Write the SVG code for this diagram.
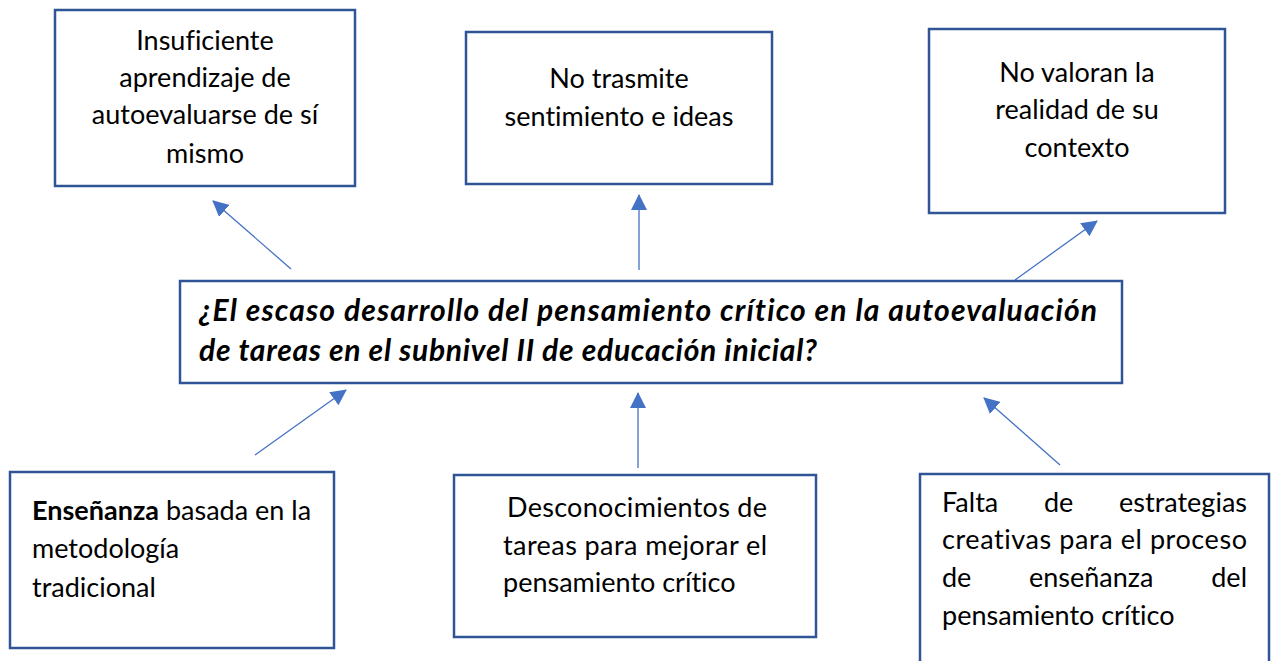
<svg xmlns="http://www.w3.org/2000/svg" width="1272" height="661" viewBox="0 0 1272 661">
<style>
text{font-variant-ligatures:none;font-feature-settings:"liga" 0,"clig" 0,"dlig" 0,"calt" 0}
.box{fill:#fff;stroke:#2F5597;stroke-width:2.5}
.t{font-family:Lato,"Liberation Sans",sans-serif;font-size:27px;fill:#000}
.c{text-anchor:middle}
.q{font-family:Lato,"Liberation Sans",sans-serif;font-size:30px;font-weight:bold;font-style:italic;fill:#000}
.ln{stroke:#4472C4;stroke-width:1.3;fill:none;marker-end:url(#ah)}
</style>
<defs>
<marker id="ah" markerUnits="userSpaceOnUse" markerWidth="16" markerHeight="16" viewBox="0 0 16 16" refX="15" refY="8" orient="auto">
<path d="M0,0 L16,8 L0,16 Z" fill="#4472C4"/>
</marker>
</defs>
<rect width="1272" height="661" fill="#fff"/>
<g id="connectors">
<line class="ln" x1="291" y1="269" x2="213" y2="201"/>
<line class="ln" x1="639" y1="270" x2="639" y2="195"/>
<line class="ln" x1="1015" y1="280" x2="1097" y2="221"/>
<line class="ln" x1="255" y1="455" x2="346" y2="390"/>
<line class="ln" x1="638" y1="468" x2="638" y2="393"/>
<line class="ln" x1="1060" y1="465" x2="984" y2="398"/>
</g>
<g id="n1">
<rect class="box" x="55" y="10" width="300" height="176"/>
<text class="t c" x="205" y="50">Insuficiente</text>
<text class="t c" x="205" y="87">aprendizaje de</text>
<text class="t c" x="205" y="124">autoevaluarse de sí</text>
<text class="t c" x="205" y="163">mismo</text>
</g>
<g id="n2">
<rect class="box" x="466" y="32" width="306" height="152"/>
<text class="t c" x="619" y="88">No trasmite</text>
<text class="t c" x="619" y="126">sentimiento e ideas</text>
</g>
<g id="n3">
<rect class="box" x="929" y="29" width="296" height="184"/>
<text class="t c" x="1077" y="82">No valoran la</text>
<text class="t c" x="1077" y="119">realidad de su</text>
<text class="t c" x="1077" y="157">contexto</text>
</g>
<g id="center">
<rect class="box" x="180" y="281" width="942" height="102"/>
<text class="q" x="199" y="321" textLength="898" lengthAdjust="spacing">¿El escaso desarrollo del pensamiento crítico en la autoevaluación</text>
<text class="q" x="199" y="361" textLength="618" lengthAdjust="spacing">de tareas en el subnivel II de educación inicial?</text>
</g>
<g id="n4">
<rect class="box" x="10" y="472" width="324" height="176"/>
<text class="t" x="32" y="520"><tspan font-weight="bold">Enseñanza</tspan> basada en la</text>
<text class="t" x="32" y="558">metodología</text>
<text class="t" x="32" y="597">tradicional</text>
</g>
<g id="n5">
<rect class="box" x="454" y="475" width="362" height="162"/>
<text class="t" x="507" y="517" textLength="260" lengthAdjust="spacing">Desconocimientos  de</text>
<text class="t" x="503" y="555" textLength="264" lengthAdjust="spacing">tareas para mejorar el</text>
<text class="t" x="503" y="592">pensamiento crítico</text>
</g>
<g id="n6">
<path class="box" d="M920,665 L920,474 L1269,474 L1269,665"/>
<text class="t" x="942" y="512">Falta</text>
<text class="t" x="1044" y="512">de</text>
<text class="t" x="1247" y="512" text-anchor="end">estrategias</text>
<text class="t" x="942" y="549" textLength="305" lengthAdjust="spacing">creativas para el proceso</text>
<text class="t" x="942" y="587">de</text>
<text class="t" x="1029" y="587">enseñanza</text>
<text class="t" x="1247" y="587" text-anchor="end">del</text>
<text class="t" x="942" y="625">pensamiento crítico</text>
</g>
</svg>
